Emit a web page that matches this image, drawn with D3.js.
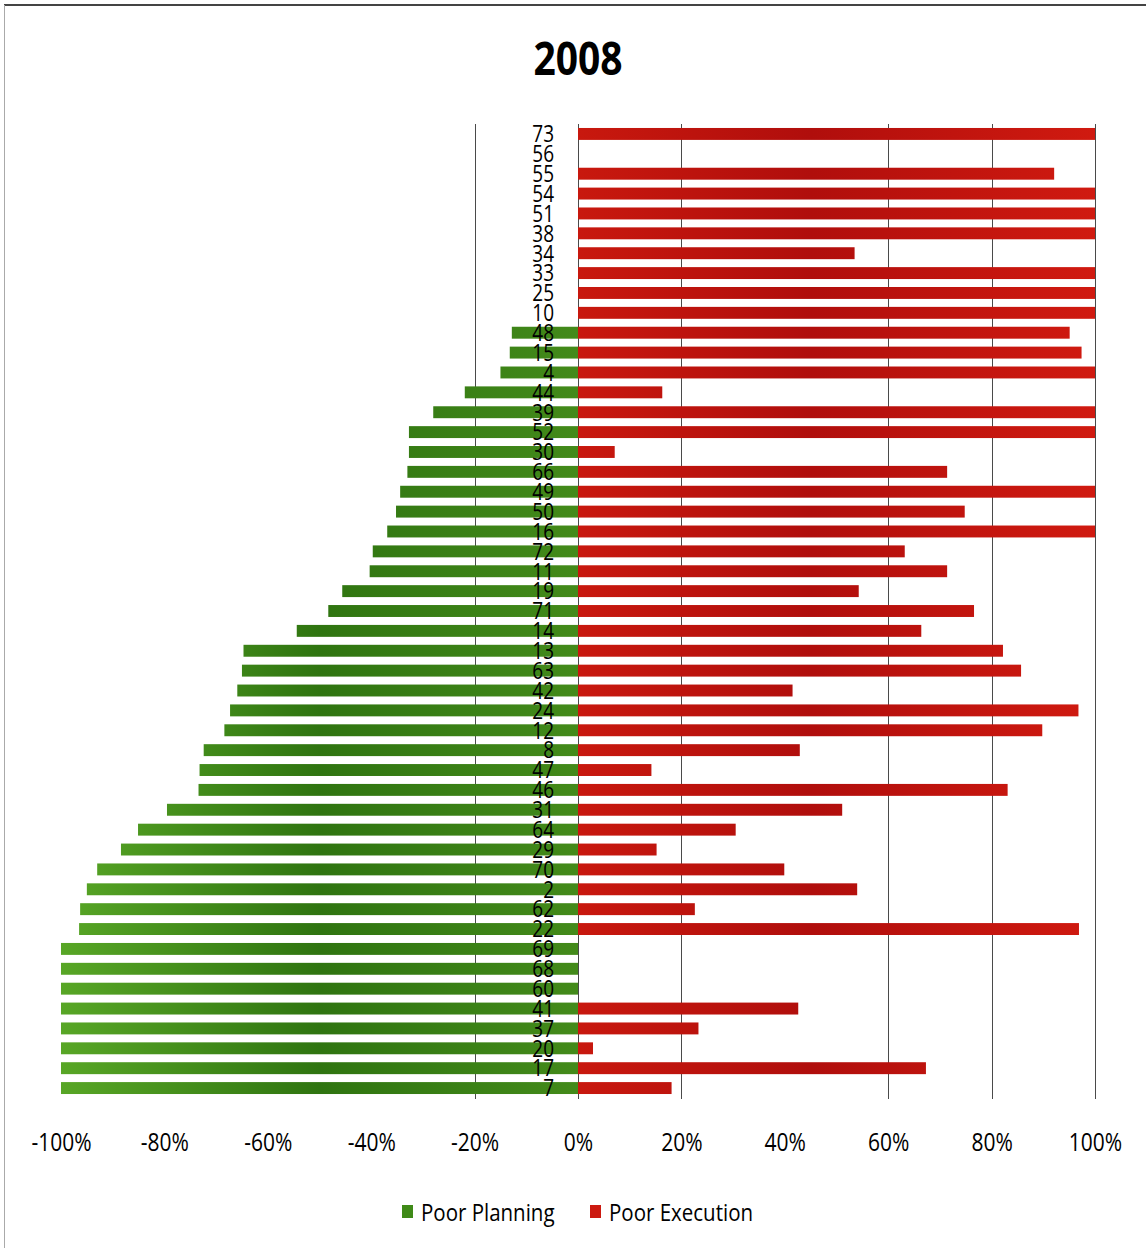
<!DOCTYPE html>
<html>
<head>
<meta charset="utf-8">
<script src="https://cdn.jsdelivr.net/npm/d3@7"></script>
<style>
  html, body { margin: 0; padding: 0; background: #fff; }
  svg { display: block; }
  text { font-family: "Open Sans", "DejaVu Sans", sans-serif; }
</style>
</head>
<body>
<svg id="chart" width="1146" height="1248"></svg>
<script>
// ---- Data ----
const title = "2008";
const categories = ["73","56","55","54","51","38","34","33","25","10","48","15","4","44","39","52","30","66","49","50","16","72","11","19","71","14","13","63","42","24","12","8","47","46","31","64","29","70","2","62","22","69","68","60","41","37","20","17","7"];
// Poor Planning shares (%), drawn to the left of zero
const poorPlanning = [0,0,0,0,0,0,0,0,0,0,12.8,13.2,15.0,21.9,28.0,32.7,32.7,33.0,34.4,35.2,36.9,39.7,40.3,45.6,48.3,54.4,64.7,65.0,65.9,67.3,68.4,72.4,73.2,73.4,79.5,85.1,88.4,93.0,95.0,96.3,96.5,100,100,100,100,100,100,100,100];
// Poor Execution shares (%), drawn to the right of zero
const poorExecution = [100,0,92.1,100,100,100,53.5,100,100,100,95.1,97.4,100,16.3,100,100,7.1,71.4,100,74.8,100,63.2,71.4,54.3,76.6,66.4,82.2,85.7,41.5,96.8,89.8,42.9,14.2,83.1,51.1,30.5,15.2,39.9,54.0,22.6,96.9,0,0,0,42.6,23.3,2.9,67.3,18.1];
const tickValues = [-100,-80,-60,-40,-20,0,20,40,60,80,100];
const tickLabels = ["-100%","-80%","-60%","-40%","-20%","0%","20%","40%","60%","80%","100%"];
const gridValues = [-20,0,20,60,80,100];
const seriesNames = ["Poor Planning","Poor Execution"];

// ---- Layout ----
const svg = d3.select("#chart");
const W = 1146, H = 1248;
const x = d3.scaleLinear().domain([-100,100]).range([61,1095]);
const y = d3.scaleBand().domain(categories).range([124,1098]).paddingInner(0.4).paddingOuter(0.2);

const defs = svg.append("defs");
const gg = defs.append("linearGradient").attr("id","gGreen").attr("gradientUnits","userSpaceOnUse")
  .attr("x1", x(-100)).attr("x2", x(0)).attr("y1",0).attr("y2",0);
gg.append("stop").attr("offset","0%").attr("stop-color","#58a626");
gg.append("stop").attr("offset","50%").attr("stop-color","#2f7410");
gg.append("stop").attr("offset","100%").attr("stop-color","#438a1a");
const gr = defs.append("linearGradient").attr("id","gRed").attr("gradientUnits","userSpaceOnUse")
  .attr("x1", x(0)).attr("x2", x(100)).attr("y1",0).attr("y2",0);
gr.append("stop").attr("offset","0%").attr("stop-color","#c8180e");
gr.append("stop").attr("offset","45%").attr("stop-color","#b00e0c");
gr.append("stop").attr("offset","100%").attr("stop-color","#d01a10");

// frame
svg.append("line").attr("x1",4).attr("x2",W).attr("y1",5).attr("y2",5).attr("stroke","#444").attr("stroke-width",2);
svg.append("line").attr("x1",4.5).attr("x2",4.5).attr("y1",5).attr("y2",H).attr("stroke","#aaa").attr("stroke-width",1);

// title
svg.append("text").attr("transform",`translate(${x(0)},75) scale(1,1.18)`)
  .attr("text-anchor","middle").attr("font-size",39).attr("font-weight","bold").attr("fill","#000").text(title);

// gridlines
svg.append("g").selectAll("line").data(gridValues).join("line")
  .attr("x1", d => Math.round(x(d)) + 0.5).attr("x2", d => Math.round(x(d)) + 0.5)
  .attr("y1", 124).attr("y2", 1099)
  .attr("stroke", "#4a4a4a").attr("stroke-width", 1);

// bars
const rows = categories.map((c,i) => ({c, p: poorPlanning[i], e: poorExecution[i]}));
svg.append("g").selectAll("rect").data(rows.filter(d => d.p > 0)).join("rect")
  .attr("x", d => x(-d.p)).attr("width", d => x(0) - x(-d.p))
  .attr("y", d => y(d.c)).attr("height", y.bandwidth())
  .attr("fill","url(#gGreen)");
svg.append("g").selectAll("rect").data(rows.filter(d => d.e > 0)).join("rect")
  .attr("x", x(0)).attr("width", d => x(d.e) - x(0))
  .attr("y", d => y(d.c)).attr("height", y.bandwidth())
  .attr("fill","url(#gRed)");

// category labels
svg.append("g").selectAll("text").data(categories).join("text")
  .attr("transform", d => `translate(554,${y(d) + y.bandwidth()/2 + 8.3}) scale(1,1.22)`)
  .attr("text-anchor","end").attr("font-size",19).attr("fill","#000").text(d => d);

// x axis labels
const xAxis = d3.axisBottom(x).tickValues(tickValues).tickSize(0)
  .tickFormat((d,i) => tickLabels[i]);
const ax = svg.append("g").attr("transform","translate(0,1100)").call(xAxis);
ax.select(".domain").remove();
ax.selectAll("text").attr("y",0).attr("dy",0)
  .attr("transform","translate(0,51) scale(1,1.2)")
  .attr("font-size",21).attr("fill","#000")
  .style("font-family","'Open Sans', sans-serif");

// legend
const legendItems = [{name: seriesNames[0], fill: "#3f8a18", x: 402}, {name: seriesNames[1], fill: "#cc1a10", x: 590}];
const lg = svg.append("g").selectAll("g").data(legendItems).join("g");
lg.append("rect").attr("x", d => d.x).attr("y",1205).attr("width",11).attr("height",13).attr("fill", d => d.fill);
lg.append("text").attr("transform", d => `translate(${d.x + 19},1221) scale(1,1.15)`)
  .attr("font-size",20.5).attr("fill","#000").text(d => d.name);
</script>
</body>
</html>
